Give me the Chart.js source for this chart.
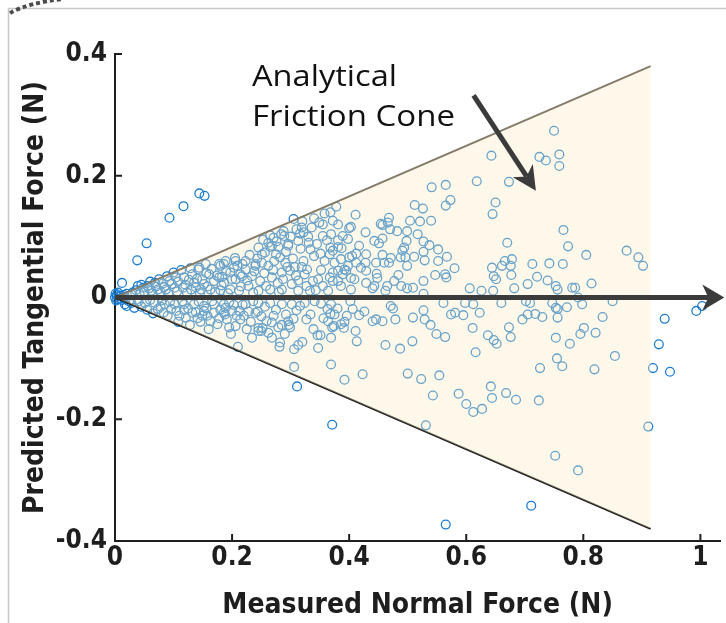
<!DOCTYPE html>
<html><head><meta charset="utf-8">
<script src="https://cdn.jsdelivr.net/npm/chart.js@4/dist/chart.umd.min.js"></script>
<style>html,body{margin:0;padding:0;background:#fff;overflow:hidden}</style>
</head><body>
<canvas id="c" width="726" height="623"></canvas>
<script>
// ---------------- DATA ----------------
const xTickValues = [0, 0.2, 0.4, 0.6, 0.8, 1];
const xTickLabels = ['0', '0.2', '0.4', '0.6', '0.8', '1'];
const yTickValues = [-0.4, -0.2, 0, 0.2, 0.4];
const yTickLabels = ['-0.4', '-0.2', '0', '0.2', '0.4'];

// analytical friction cone (normal force, tangential bound)
const coneNormal = [0, 0.915];
const coneUpper = [0, 0.38];
const coneLower = [0, -0.38];

// measured normal force (x) / predicted tangential force (y), by region
const originX = [0.000,0.003,0.004,0.006,0.002,0.008,0.001,0.010,0.012,0.005,0.015,0.018,0.020,0.024,0.028];
const originY = [0.000,0.004,-0.003,0.002,-0.005,-0.002,0.006,0.003,-0.004,0.008,0.004,-0.003,0.006,-0.006,0.005];

const outlierX = [0.144,0.153,0.117,0.093,0.054,0.038,0.012,0.305,0.929,0.939,0.993,1.003,0.919,0.948,0.911,0.311,0.371,0.565,0.711];
const outlierY = [0.171,0.167,0.150,0.131,0.089,0.061,0.024,0.129,-0.077,-0.035,-0.022,-0.014,-0.116,-0.122,-0.212,-0.146,-0.209,-0.373,-0.342];

const lowRightX = [0.462,0.487,0.508,0.549,0.564,0.616,0.637,0.647,0.652,0.676,0.753,0.777,0.795,0.821,0.854,0.755,0.764,0.726,0.819,0.500,0.523,0.554,0.543,0.587,0.600,0.612,0.627,0.642,0.644,0.668,0.685,0.724,0.531,0.752,0.791];
const lowRightY = [-0.078,-0.084,-0.072,-0.060,-0.065,-0.090,-0.062,-0.070,-0.076,-0.065,-0.066,-0.076,-0.060,-0.058,-0.096,-0.100,-0.113,-0.116,-0.118,-0.125,-0.134,-0.128,-0.161,-0.158,-0.175,-0.188,-0.183,-0.146,-0.165,-0.157,-0.168,-0.169,-0.210,-0.260,-0.284];

const lowLeftX = [0.210,0.234,0.245,0.250,0.281,0.306,0.313,0.320,0.306,0.346,0.351,0.369,0.392,0.423,0.413,0.411];
const lowLeftY = [-0.081,-0.066,-0.055,-0.055,-0.081,-0.085,-0.078,-0.073,-0.114,-0.062,-0.062,-0.110,-0.135,-0.126,-0.072,-0.055];

const midUpX = [0.643,0.725,0.736,0.759,0.759,0.541,0.565,0.618,0.673,0.573,
  0.565,0.512,0.526,0.650,0.645,0.378,0.372,0.411,0.468,0.457,
  0.403,0.400,0.428,0.466,0.470,0.482,0.504,0.521,0.540,0.499,
  0.517,0.498,0.527,0.443,0.457,0.494,0.537,0.552,0.527,0.511,
  0.491,0.488,0.471,0.457,0.468,0.499,0.496,0.529,0.552,0.567,
  0.580,0.564,0.547,0.566,0.527,0.484,0.477,0.447,0.428,0.420,
  0.398,0.400,0.405,0.386,0.395,0.389,0.403,0.381,0.372,0.368,
  0.381,0.398,0.417,0.367,0.372,0.440,0.465,0.489,0.499,0.509,
  0.527,0.606,0.626,0.646,0.682,0.670,0.644,0.647,0.651,0.661,
  0.676,0.678,0.666,0.677,0.705,0.713,0.721,0.742,0.739,0.753,
  0.765,0.766,0.774,0.781,0.750];
const midUpY = [0.233,0.231,0.225,0.235,0.216,0.181,0.185,0.191,0.190,0.160,
  0.151,0.152,0.146,0.156,0.137,0.149,0.126,0.136,0.131,0.119,
  0.116,0.114,0.107,0.123,0.112,0.109,0.126,0.125,0.126,0.109,
  0.104,0.093,0.092,0.093,0.097,0.082,0.086,0.079,0.075,0.067,
  0.077,0.066,0.065,0.070,0.057,0.052,0.066,0.061,0.060,0.067,
  0.048,0.038,0.037,0.033,0.027,0.037,0.027,0.039,0.057,0.049,
  0.052,0.066,0.068,0.063,0.044,0.038,0.032,0.027,0.041,0.082,
  0.094,0.096,0.085,0.071,0.077,0.015,0.019,0.019,0.015,0.016,
  0.006,0.015,0.011,0.011,0.015,0.090,0.049,0.035,0.030,0.052,
  0.052,0.063,0.060,0.037,0.022,0.055,0.034,0.056,0.028,0.019,
  0.055,0.111,0.084,0.016,0.274];

const midLowX = [0.369,0.375,0.374,0.392,0.406,0.417,0.440,0.446,0.457,0.471,
  0.475,0.479,0.509,0.527,0.529,0.539,0.561,0.574,0.581,0.595,
  0.611,0.598,0.612,0.623,0.660,0.673,0.696,0.705,0.718,0.730,
  0.747,0.753,0.772,0.702,0.709];
const midLowY = [-0.011,-0.028,-0.047,-0.040,-0.019,-0.029,-0.039,-0.036,-0.039,-0.014,
  -0.018,-0.036,-0.033,-0.021,-0.036,-0.045,-0.009,-0.028,-0.025,-0.029,
  -0.050,-0.009,-0.011,-0.025,-0.009,-0.049,-0.036,-0.028,-0.027,-0.032,
  -0.009,-0.017,-0.016,-0.006,-0.009];

const farRightX = [0.805,0.874,0.894,0.902,0.814,0.786,0.756,0.791,0.798,0.756,0.756,0.850,0.833,0.801];
const farRightY = [0.070,0.077,0.066,0.052,0.023,0.016,0.013,0.000,-0.011,-0.019,-0.033,-0.006,-0.032,-0.050];

const denseUpX = [0.358,0.349,0.355,0.319,0.322,0.316,0.265,0.284,0.289,0.355,
  0.454,0.451,0.245,0.256,0.265,0.268,0.279,0.296,0.331,0.334,
  0.351,0.381,0.387,0.412,0.429,0.446,0.460,0.429,0.412,0.392,
  0.375,0.381,0.367,0.372,0.386,0.403,0.409,0.429,0.443,0.448,
  0.462,0.347,0.338,0.343,0.355,0.327,0.313,0.324,0.319,0.307,
  0.299,0.291,0.282,0.272,0.262,0.251,0.240,0.223,0.217,0.234,
  0.248,0.268,0.278,0.285,0.302,0.228,0.245,0.265,0.285,0.313,
  0.333,0.364];
const denseUpY = [0.138,0.123,0.120,0.115,0.107,0.105,0.102,0.104,0.101,0.101,
  0.121,0.089,0.082,0.074,0.083,0.085,0.083,0.085,0.090,0.079,
  0.072,0.083,0.081,0.072,0.071,0.057,0.057,0.044,0.057,0.046,
  0.057,0.044,0.033,0.027,0.019,0.013,0.030,0.024,0.019,0.032,
  0.011,0.030,0.027,0.012,0.019,0.019,0.028,0.038,0.050,0.050,
  0.044,0.057,0.066,0.060,0.052,0.057,0.052,0.046,0.035,0.035,
  0.027,0.033,0.024,0.041,0.022,0.019,0.011,0.013,0.013,0.011,
  0.011,0.011];

const denseLowX = [0.223,0.245,0.265,0.285,0.302,0.324,0.341,0.244,0.271,0.316,
  0.327,0.363,0.368,0.426,0.245,0.252,0.268,0.279,0.285,0.297,
  0.371,0.391,0.220,0.228];
const denseLowY = [-0.011,-0.009,-0.009,-0.011,-0.011,-0.009,-0.006,-0.023,-0.030,-0.014,
  -0.036,-0.019,-0.027,-0.023,-0.050,-0.050,-0.041,-0.049,-0.045,-0.045,
  -0.049,-0.050,-0.030,-0.023];

const nearUpX = [0.142,0.180,0.186,0.203,0.209,0.197,0.178,0.183,0.161,0.149,
  0.132,0.118,0.104,0.093,0.082,0.068,0.056,0.048,0.135,0.152,
  0.169,0.186,0.206,0.214,0.116,0.102,0.087,0.073,0.062,0.130,
  0.147,0.163,0.180,0.197,0.212,0.039,
  0.144,0.155,0.178,0.189,0.206,0.223,0.240,0.251,0.271,0.296,
  0.313,0.336,0.369,0.381,0.389,0.368,0.310,0.288];
const nearUpY = [0.046,0.052,0.055,0.049,0.052,0.041,0.033,0.034,0.038,0.030,
  0.038,0.033,0.033,0.027,0.023,0.024,0.019,0.016,0.024,0.022,
  0.027,0.024,0.030,0.038,0.016,0.016,0.013,0.013,0.011,0.013,
  0.013,0.013,0.012,0.013,0.011,0.019,
  0.049,0.055,0.055,0.060,0.060,0.060,0.055,0.071,0.098,0.088,
  0.093,0.115,0.104,0.120,0.101,0.140,0.112,0.109];

const nearLowX = [0.017,0.020,0.033,0.051,0.068,0.085,0.102,0.118,0.135,0.152,
  0.169,0.186,0.203,0.096,0.118,0.132,0.152,0.169,0.110,0.073,
  0.083,0.121,0.141,0.149,0.186,0.200,0.178,0.191,0.214,0.195,
  0.212,0.163,
  0.189,0.158,0.188,0.240,0.259,0.296,0.206,0.268,0.299,0.282,
  0.347,0.369,0.386,0.364];
const nearLowY = [-0.011,-0.014,-0.017,-0.009,-0.009,-0.011,-0.011,-0.011,-0.011,-0.014,
  -0.011,-0.011,-0.012,-0.019,-0.021,-0.025,-0.022,-0.025,-0.030,-0.019,
  -0.025,-0.033,-0.034,-0.030,-0.025,-0.022,-0.034,-0.036,-0.036,-0.049,
  -0.022,-0.039,
  -0.017,-0.030,-0.028,-0.025,-0.039,-0.039,-0.047,-0.066,-0.049,-0.074,
  -0.083,-0.066,-0.044,-0.039];

// extra points filling the dense band close to the origin
const bandUpX = [0.030,0.036,0.042,0.045,0.050,0.058,0.060,0.064,0.070,0.075,
  0.078,0.084,0.089,0.091,0.097,0.100,0.106,0.108,0.113,0.120,
  0.123,0.126,0.129,0.138,0.140,0.145,0.156,0.158,0.165,0.171,
  0.174,0.182,0.190,0.193,0.200,0.205,0.215,0.218,0.226,0.230,
  0.236,0.238,0.243,0.255,0.258,0.262,0.270,0.275,0.280,0.287,
  0.292,0.294,0.304,0.309,0.317,0.322,0.328,0.340,0.345,0.352,
  0.358,0.362,0.300,0.276,0.253,0.320,0.340,0.330];
const bandUpY = [0.008,0.012,0.006,0.021,0.010,0.015,0.026,0.007,0.018,0.030,
  0.009,0.017,0.035,0.006,0.022,0.041,0.010,0.026,0.045,0.021,
  0.008,0.029,0.048,0.017,0.031,0.007,0.040,0.018,0.047,0.009,
  0.036,0.020,0.044,0.007,0.030,0.065,0.018,0.055,0.028,0.070,
  0.008,0.043,0.064,0.040,0.019,0.090,0.045,0.071,0.009,0.030,
  0.075,0.050,0.064,0.036,0.080,0.060,0.046,0.068,0.088,0.045,
  0.060,0.094,0.100,0.092,0.095,0.125,0.130,0.100];

const bandLowX = [0.028,0.040,0.045,0.055,0.060,0.065,0.078,0.080,0.090,0.094,
  0.105,0.108,0.115,0.125,0.128,0.138,0.143,0.146,0.156,0.160,
  0.166,0.175,0.180,0.195,0.198,0.208,0.218,0.225,0.232,0.236,
  0.250,0.256,0.262,0.275,0.290,0.292,0.305,0.310,0.334,0.339,
  0.352,0.356,0.380,0.396,0.402];
const bandLowY = [-0.009,-0.006,-0.015,-0.020,-0.004,-0.026,-0.015,-0.005,-0.030,-0.007,
  -0.022,-0.040,-0.006,-0.018,-0.045,-0.024,-0.007,-0.040,-0.018,-0.052,
  -0.006,-0.044,-0.020,-0.008,-0.060,-0.030,-0.012,-0.052,-0.040,-0.006,
  -0.031,-0.015,-0.058,-0.020,-0.060,-0.028,-0.035,-0.021,-0.028,-0.052,
  -0.010,-0.034,-0.018,-0.030,-0.006];

const normalForce = [].concat(originX, outlierX, lowRightX, lowLeftX, midUpX, midLowX, farRightX, denseUpX, denseLowX, nearUpX, nearLowX, bandUpX, bandLowX);
const tangentialForce = [].concat(originY, outlierY, lowRightY, lowLeftY, midUpY, midLowY, farRightY, denseUpY, denseLowY, nearUpY, nearLowY, bandUpY, bandLowY);

const scatterPoints = normalForce.map((x, i) => ({ x: x, y: tangentialForce[i] }));
const conePtsUpper = coneNormal.map((x, i) => ({ x: x, y: coneUpper[i] }));
const conePtsLower = coneNormal.map((x, i) => ({ x: x, y: coneLower[i] }));

// ---------------- STYLE ----------------
const AXIS_FONT = "'DejaVu Sans Condensed', 'DejaVu Sans', sans-serif";
const INK = '#1e1e1e';
const ARROW = '#3b3b3b';

function drawArrow(ctx, x1, y1, x2, y2, len, half, back, width) {
  const dx = x2 - x1, dy = y2 - y1, L = Math.hypot(dx, dy);
  const ux = dx / L, uy = dy / L, px = -uy, py = ux;
  ctx.save();
  ctx.strokeStyle = ARROW; ctx.fillStyle = ARROW; ctx.lineWidth = width; ctx.lineCap = 'butt';
  ctx.beginPath(); ctx.moveTo(x1, y1); ctx.lineTo(x2 - ux * back, y2 - uy * back); ctx.stroke();
  ctx.beginPath();
  ctx.moveTo(x2, y2);
  ctx.lineTo(x2 - ux * len + px * half, y2 - uy * len + py * half);
  ctx.lineTo(x2 - ux * back, y2 - uy * back);
  ctx.lineTo(x2 - ux * len - px * half, y2 - uy * len - py * half);
  ctx.closePath(); ctx.fill();
  ctx.restore();
}

const decor = {
  id: 'decor',
  beforeDraw(chart) {
    const ctx = chart.ctx;
    ctx.save();
    ctx.fillStyle = '#fff'; ctx.fillRect(0, 0, chart.width, chart.height);
    ctx.strokeStyle = '#c8c8c8'; ctx.lineWidth = 1.5;
    ctx.beginPath(); ctx.moveTo(8.5, chart.height); ctx.lineTo(8.5, 8.5); ctx.lineTo(chart.width, 8.5); ctx.stroke();
    ctx.strokeStyle = '#4a4a4a'; ctx.lineWidth = 4; ctx.setLineDash([4, 3]);
    ctx.beginPath(); ctx.moveTo(10, 13); ctx.quadraticCurveTo(28, 3, 62, -1); ctx.stroke();
    ctx.restore();
  },
  afterDraw(chart) {
    const ctx = chart.ctx, xs = chart.scales.x, ys = chart.scales.y, a = chart.chartArea;
    ctx.save();
    // inward tick marks
    ctx.strokeStyle = INK; ctx.lineWidth = 2;
    xTickValues.forEach(v => { const p = xs.getPixelForValue(v); ctx.beginPath(); ctx.moveTo(p, a.bottom); ctx.lineTo(p, a.bottom - 7); ctx.stroke(); });
    yTickValues.forEach(v => { const p = ys.getPixelForValue(v); ctx.beginPath(); ctx.moveTo(a.left, p); ctx.lineTo(a.left + 7, p); ctx.stroke(); });
    ctx.restore();
    // main normal-force arrow along zero tangential force
    const y0 = ys.getPixelForValue(0);
    drawArrow(ctx, xs.getPixelForValue(0), y0, a.right + 4, y0, 22, 13, 16, 5);
    // annotation arrow
    drawArrow(ctx, xs.getPixelForValue(0.6125), ys.getPixelForValue(0.332), xs.getPixelForValue(0.719), ys.getPixelForValue(0.1755), 24, 12, 17, 5);
    // annotation text
    ctx.save();
    ctx.fillStyle = '#111';
    ctx.font = "29px 'Open Sans', Lato, sans-serif";
    ctx.textBaseline = 'alphabetic'; ctx.textAlign = 'left';
    const lines = [['Analytical', 86, 145], ['Friction Cone', 126, 203]];
    lines.forEach(([t, by, w]) => {
      const m = ctx.measureText(t).width;
      ctx.save(); ctx.translate(252, by); ctx.scale(w / m, 1); ctx.fillText(t, 0, 0); ctx.restore();
    });
    ctx.restore();
  }
};

new Chart(document.getElementById('c'), {
  type: 'scatter',
  data: {
    datasets: [
      {
        label: 'Predicted vs measured',
        data: scatterPoints,
        order: 2,
        pointStyle: 'circle',
        pointRadius: 4.4,
        pointBorderWidth: 1.3,
        pointBackgroundColor: 'rgba(0,0,0,0)',
        pointBorderColor: 'rgb(28,124,206)',
        showLine: false,
        clip: 12
      },
      {
        label: 'Cone upper',
        type: 'line',
        data: conePtsUpper,
        order: 0,
        borderColor: '#857b69',
        borderWidth: 2,
        pointRadius: 0,
        fill: '+1',
        backgroundColor: 'rgba(249,235,195,0.35)',
        tension: 0
      },
      {
        label: 'Cone lower',
        type: 'line',
        data: conePtsLower,
        order: 1,
        borderColor: '#1a1a1a',
        borderWidth: 2,
        pointRadius: 0,
        fill: false,
        tension: 0
      }
    ]
  },
  options: {
    responsive: false,
    animation: false,
    events: [],
    layout: { padding: { top: 54, left: 0, right: 0, bottom: 0 } },
    plugins: { legend: { display: false }, tooltip: { enabled: false } },
    scales: {
      x: {
        type: 'linear', min: 0, max: 1.034,
        afterBuildTicks: s => { s.ticks = xTickValues.map(v => ({ value: v })); },
        afterFit: s => { s.height = 82; },
        grid: { display: false, drawTicks: false },
        border: { display: true, color: INK, width: 2 },
        ticks: {
          padding: 2, color: INK,
          font: { family: AXIS_FONT, size: 26, weight: 'bold' },
          callback: (v, i) => xTickLabels[i], maxRotation: 0, autoSkip: false
        },
        title: {
          display: true, text: 'Measured Normal Force (N)', color: INK,
          font: { family: AXIS_FONT, size: 28, weight: 'bold' },
          padding: { top: 0, bottom: 0 }
        }
      },
      y: {
        type: 'linear', min: -0.4, max: 0.4,
        afterBuildTicks: s => { s.ticks = yTickValues.map(v => ({ value: v })); },
        afterFit: s => { s.width = 115; },
        grid: { display: false, drawTicks: false },
        border: { display: true, color: INK, width: 2 },
        ticks: {
          padding: 8, color: INK,
          font: { family: AXIS_FONT, size: 26, weight: 'bold' },
          callback: (v, i) => yTickLabels[i], autoSkip: false
        },
        title: {
          display: true, text: 'Predicted Tangential Force (N)', color: INK,
          font: { family: AXIS_FONT, size: 28, weight: 'bold' },
          padding: { top: 19, bottom: 0 }
        }
      }
    }
  },
  plugins: [decor]
});
</script>
</body></html>
